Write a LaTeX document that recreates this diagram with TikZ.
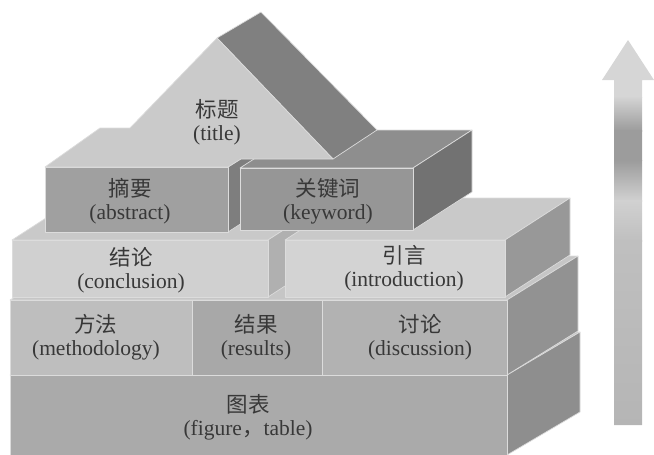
\documentclass[tikz,border=0pt]{standalone}
\usepackage{fontspec}
\setmainfont{Liberation Serif}
\newfontfamily\cjk{Noto Sans CJK SC}
\definecolor{edgec}{HTML}{DCDCDC}
\definecolor{txt}{HTML}{383838}
\definecolor{topc}{HTML}{C6C6C6}
\definecolor{figf}{HTML}{AAAAAA}
\definecolor{figs}{HTML}{8E8E8E}
\definecolor{metf}{HTML}{BEBEBE}
\definecolor{resf}{HTML}{A8A8A8}
\definecolor{disf}{HTML}{B2B2B2}
\definecolor{l2s}{HTML}{929292}
\definecolor{conf}{HTML}{D0D0D0}
\definecolor{cons}{HTML}{B0B0B0}
\definecolor{intf}{HTML}{D3D3D3}
\definecolor{ints}{HTML}{989898}
\definecolor{intt}{HTML}{C9C9C9}
\definecolor{absf}{HTML}{A0A0A0}
\definecolor{abss}{HTML}{7E7E7E}
\definecolor{keyf}{HTML}{969696}
\definecolor{keys}{HTML}{727272}
\definecolor{keyt}{HTML}{8E8E8E}
\definecolor{titf}{HTML}{CACACA}
\definecolor{roof}{HTML}{808080}
\begin{document}
\begin{tikzpicture}[x=1pt,y=-1pt,
  face/.style={draw=edgec, line width=0.7pt, line join=round},
  lbl/.style={align=center, text=txt, font=\fontsize{21.5}{23}\selectfont, inner sep=0pt}]
\useasboundingbox (0,0) rectangle (654,455);
% ---------- layer 1: figure/table
\fill[face, fill=topc] (10,375) -- (507,375) -- (580,332) -- (83,332) -- cycle;
\fill[face, fill=figs] (507,375) -- (580,332) -- (580,412) -- (507,455) -- cycle;
\fill[face, fill=figf] (10,375) rectangle (507,455);
% ---------- layer 2
\fill[face, fill=topc] (10,300) -- (507,300) -- (578,256) -- (81,256) -- cycle;
\fill[face, fill=l2s] (507,300) -- (578,256) -- (578,331) -- (507,375) -- cycle;
\fill[face, fill=metf] (10,300) rectangle (192,375);
\fill[face, fill=resf] (192,300) rectangle (322,375);
\fill[face, fill=disf] (322,300) rectangle (507,375);
% ---------- layer 3: conclusion
\fill[face, fill=intt] (12,240) -- (268,240) -- (333,198) -- (77,198) -- cycle;
\fill[face, fill=cons] (268,240) -- (333,198) -- (333,255) -- (268,297) -- cycle;
\fill[face, fill=conf] (12,240) rectangle (268,297);
% ---------- layer 3: introduction
\fill[face, fill=intt] (285,240) -- (505,240) -- (570,198) -- (350,198) -- cycle;
\fill[face, fill=ints] (505,240) -- (570,198) -- (570,255) -- (505,297) -- cycle;
\fill[face, fill=intf] (285,240) rectangle (505,297);
% ---------- layer 4: abstract side, keyword block
\fill[face, fill=abss] (228,167) -- (287,129) -- (287,194) -- (228,232) -- cycle;
\fill[face, fill=absf] (45,167) rectangle (228,232);
\fill[face, fill=keyt] (240,168) -- (413,168) -- (472,130) -- (299,130) -- cycle;
\fill[face, fill=keys] (413,168) -- (472,130) -- (472,192) -- (413,230) -- cycle;
\fill[face, fill=keyf] (240,168) rectangle (413,230);
% ---------- roof
\fill[face, fill=roof] (217,38) -- (261,12) -- (377,130) -- (333,159) -- cycle;
\fill[face, fill=titf] (45,167) -- (100,128) -- (130,128) -- (217,38) -- (333,159)
   -- (241,159) -- (228,167) -- cycle;
% ---------- arrow
\begin{scope}
\clip (614,425) -- (614,80) -- (602,80) -- (628,40) -- (654,80) -- (642,80) -- (642,425) -- cycle;
\fill[white!84!black] (598,36) rectangle (656,98);
\shade[top color=white!83!black, bottom color=white!61!black] (598,97) rectangle (656,131);
\fill[white!61!black] (598,130) rectangle (656,161);
\shade[top color=white!61!black, bottom color=white!82!black] (598,160) rectangle (656,201);
\shade[top color=white!82!black, bottom color=white!75!black] (598,200) rectangle (656,241);
\shade[top color=white!75!black, bottom color=white!71!black] (598,240) rectangle (656,427);
\end{scope}
\coordinate (arrowtip) at (628,40);
% ---------- labels
\node[lbl] (title) at (217,122) {{\cjk 标题}\\(title)};
\node[lbl] (abstract) at (130,201) {{\cjk 摘要}\\(abstract)};
\node[lbl] (keyword) at (328,201) {{\cjk 关键词}\\(keyword)};
\node[lbl] (conclusion) at (131,270) {{\cjk 结论}\\(conclusion)};
\node[lbl] (introduction) at (404,268) {{\cjk 引言}\\(introduction)};
\node[lbl] (methodology) at (96,337) {{\cjk 方法}\\(methodology)};
\node[lbl] (results) at (256,337) {{\cjk 结果}\\(results)};
\node[lbl] (discussion) at (420,337) {{\cjk 讨论}\\(discussion)};
\node[lbl] (figure) at (248,417) {{\cjk 图表}\\(figure{\cjk ，}table)};
\end{tikzpicture}
\end{document}
